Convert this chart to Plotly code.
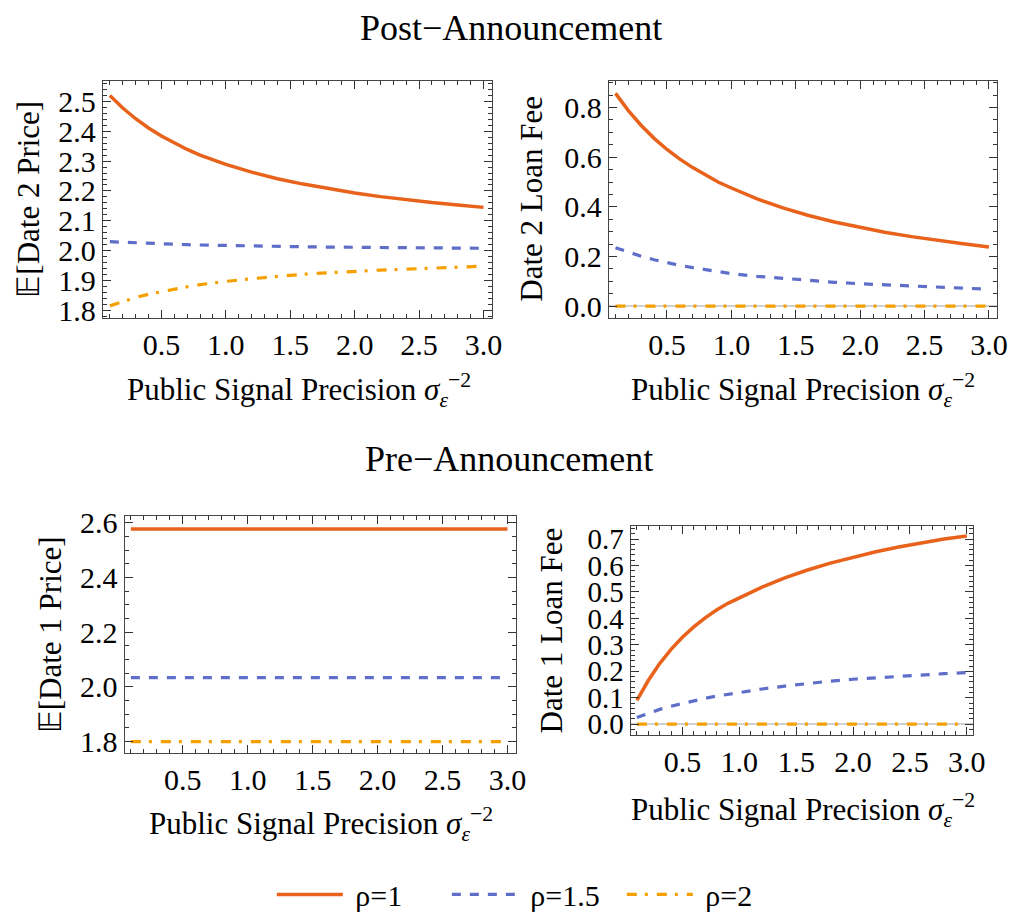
import plotly.graph_objects as go

# ---------------- data ----------------
x_grid = [0.1, 0.2, 0.3, 0.4, 0.5, 0.6, 0.7, 0.8, 0.9, 1.0,
          1.2, 1.4, 1.6, 1.8, 2.0, 2.2, 2.4, 2.6, 2.8, 3.0]

series_names = ["\u00a0ρ=1", "\u00a0ρ=1.5", "\u00a0ρ=2"]

# Post-announcement: E[Date 2 Price]
post_price_rho1 = [2.520, 2.478, 2.442, 2.411, 2.384, 2.360, 2.339, 2.320, 2.304, 2.289,
                   2.263, 2.241, 2.223, 2.207, 2.193, 2.181, 2.170, 2.161, 2.153, 2.145]
post_price_rho15 = [2.030, 2.028, 2.026, 2.024, 2.023, 2.021, 2.020, 2.019, 2.018, 2.017,
                    2.015, 2.014, 2.013, 2.012, 2.011, 2.010, 2.010, 2.009, 2.009, 2.008]
post_price_rho2 = [1.815, 1.830, 1.843, 1.854, 1.863, 1.872, 1.879, 1.886, 1.892, 1.897,
                   1.906, 1.914, 1.921, 1.926, 1.931, 1.935, 1.938, 1.942, 1.945, 1.948]

# Post-announcement: Date 2 Loan Fee
post_fee_rho1 = [0.857, 0.788, 0.728, 0.676, 0.631, 0.592, 0.558, 0.527, 0.499, 0.476,
                 0.432, 0.396, 0.365, 0.339, 0.317, 0.297, 0.280, 0.264, 0.251, 0.238]
post_fee_rho15 = [0.235, 0.217, 0.201, 0.187, 0.174, 0.164, 0.155, 0.147, 0.139, 0.131,
                  0.120, 0.111, 0.103, 0.096, 0.090, 0.085, 0.080, 0.076, 0.072, 0.068]
post_fee_rho2 = [0.0] * 20

# Pre-announcement: E[Date 1 Price]
pre_price_rho1 = [2.578] * 20
pre_price_rho15 = [2.034] * 20
pre_price_rho2 = [1.800] * 20

# Pre-announcement: Date 1 Loan Fee
pre_fee_rho1 = [0.090, 0.165, 0.229, 0.283, 0.329, 0.368, 0.402, 0.432, 0.457, 0.478,
                0.518, 0.553, 0.583, 0.609, 0.632, 0.652, 0.670, 0.686, 0.700, 0.712]
pre_fee_rho15 = [0.025, 0.042, 0.056, 0.068, 0.079, 0.089, 0.098, 0.106, 0.113, 0.120,
                 0.133, 0.144, 0.154, 0.163, 0.170, 0.176, 0.181, 0.186, 0.191, 0.195]
pre_fee_rho2 = [0.0] * 20

x_tick_vals = [0.5, 1.0, 1.5, 2.0, 2.5, 3.0]
x_tick_text = ["0.5", "1.0", "1.5", "2.0", "2.5", "3.0"]

# ---------------- styles ----------------
FONT = "Liberation Serif, Times New Roman, serif"
colors = ["#E8621C", "#5F6FC9", "#F5A000"]
dashes = ["solid", "9px,9px", "10px,8px,3px,9px"]
widths = [3.5, 3.2, 3.2]

panels = [
    ("x", "y", [post_price_rho1, post_price_rho15, post_price_rho2]),
    ("x2", "y2", [post_fee_rho1, post_fee_rho15, post_fee_rho2]),
    ("x3", "y3", [pre_price_rho1, pre_price_rho15, pre_price_rho2]),
    ("x4", "y4", [pre_fee_rho1, pre_fee_rho15, pre_fee_rho2]),
]

fig = go.Figure()
for pi, (xa, ya, ys) in enumerate(panels):
    for si, yv in enumerate(ys):
        fig.add_trace(go.Scatter(
            x=x_grid, y=yv, xaxis=xa, yaxis=ya, mode="lines",
            line=dict(color=colors[si], dash=dashes[si], width=widths[si]),
            name=series_names[si], showlegend=(pi == 0), hoverinfo="skip",
        ))

W, H = 1024, 922
FRAME = "#444444"
TICKC = "#333333"


def xdom(a, b):
    return [a / W, b / W]


def ydom(top, bottom):
    return [1 - bottom / H, 1 - top / H]


def axis_style(dom, rng, minor_dtick, anchor, tickvals=None, ticktext=None, dtick=None, tick0=None,
               zero=False, fsize=30):
    d = dict(
        domain=dom, range=rng, anchor=anchor,
        showline=True, linecolor=FRAME, linewidth=1, mirror="ticks",
        ticks="inside", ticklen=8, tickwidth=1.2, tickcolor=TICKC,
        showgrid=False, zeroline=zero, zerolinecolor="#D0D0D0", zerolinewidth=1.5,
        tickfont=dict(family=FONT, size=fsize, color="black"),
        minor=dict(ticks="inside", ticklen=4, tickwidth=1, tickcolor=TICKC, dtick=minor_dtick, showgrid=False),
        fixedrange=True,
    )
    if tickvals is not None:
        d.update(tickmode="array", tickvals=tickvals, ticktext=ticktext)
    else:
        d.update(tickmode="linear", dtick=dtick, tick0=tick0, tickformat=".1f")
    return d


fig.update_layout(
    width=W, height=H,
    margin=dict(l=0, r=0, t=0, b=0),
    paper_bgcolor="white", plot_bgcolor="white",
    font=dict(family=FONT, color="black"),
    xaxis=axis_style(xdom(104, 498), [0.045, 3.067], 0.1, "y", x_tick_vals, x_tick_text),
    yaxis=axis_style(ydom(72, 314), [1.776, 2.57], 0.02, "x", dtick=0.1, tick0=1.8),
    xaxis2=axis_style(xdom(616, 1009), [0.048, 3.064], 0.1, "y2", x_tick_vals, x_tick_text),
    yaxis2=axis_style(ydom(72, 314), [-0.046, 0.909], 0.05, "x2", dtick=0.2, tick0=0.0, zero=True),
    xaxis3=axis_style(xdom(126, 522), [0.051, 3.065], 0.1, "y3", x_tick_vals, x_tick_text),
    yaxis3=axis_style(ydom(517, 759), [1.757, 2.624], 0.05, "x3", dtick=0.2, tick0=1.8),
    xaxis4=axis_style(xdom(638, 985), [0.044, 3.058], 0.1, "y4", x_tick_vals, x_tick_text),
    yaxis4=axis_style(ydom(527, 740), [-0.040, 0.749], 0.02, "x4", dtick=0.1, tick0=0.0, zero=True, fsize=29),
    legend=dict(
        orientation="h", x=0.528, xanchor="center", y=1 - 903 / H, yanchor="middle",
        font=dict(family=FONT, size=30, color="black"), itemwidth=66,
        entrywidth=94, entrywidthmode="pixels",
        bgcolor="rgba(0,0,0,0)", tracegroupgap=0,
    ),
)

xlabel = "Public Signal Precision <i>σ</i><sub><i>ε</i></sub><sup>−2</sup>"
annots = [
    dict(text="Post−Announcement", x=517 / W, y=1 - 18 / H, size=36, angle=0),
    dict(text="Pre−Announcement", x=515 / W, y=1 - 458 / H, size=36, angle=0),
    dict(text="𝔼[Date 2 Price]", x=28 / W, y=1 - 193 / H, size=31, angle=-90),
    dict(text="Date 2 Loan Fee", x=537 / W, y=1 - 193 / H, size=31, angle=-90),
    dict(text="𝔼[Date 1 Price]", x=51 / W, y=1 - 638 / H, size=31, angle=-90),
    dict(text="Date 1 Loan Fee", x=559 / W, y=1 - 633 / H, size=31, angle=-90),
    dict(text=xlabel, x=303 / W, y=1 - 388 / H, size=31, angle=0),
    dict(text=xlabel, x=813 / W, y=1 - 388 / H, size=31, angle=0),
    dict(text=xlabel, x=325 / W, y=1 - 831 / H, size=31, angle=0),
    dict(text=xlabel, x=813 / W, y=1 - 817 / H, size=31, angle=0),
]
for a in annots:
    fig.add_annotation(
        text=a["text"], x=a["x"], y=a["y"], xref="paper", yref="paper",
        xanchor="center", yanchor="middle", showarrow=False, textangle=a["angle"],
        font=dict(family=FONT, size=a["size"], color="black"),
    )

fig.write_html("out.html")
